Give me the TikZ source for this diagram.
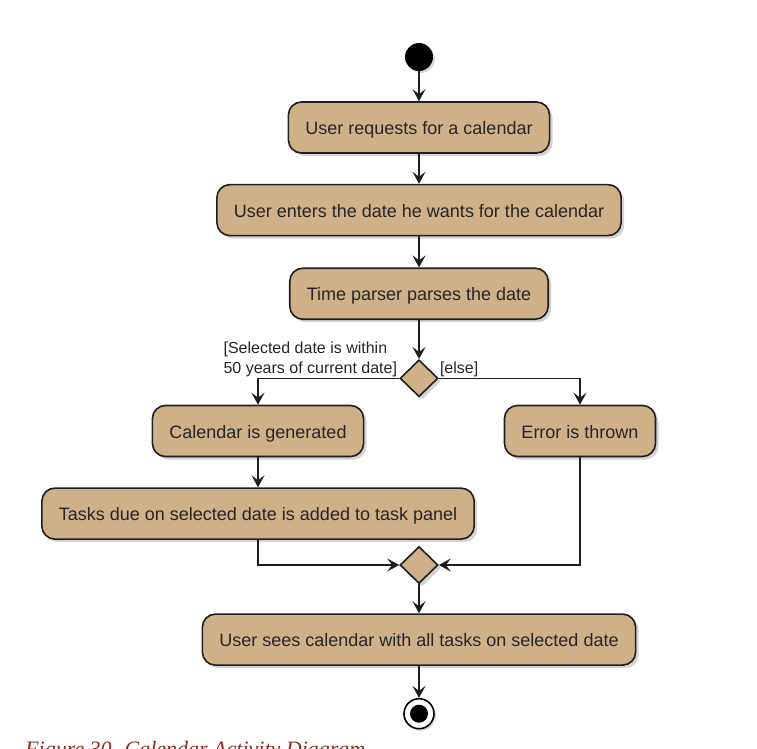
\documentclass[tikz,border=0pt]{standalone}
\usepackage{fontspec}
\setsansfont{Liberation Sans}
\newfontfamily\captionfont{Liberation Serif}
\usepackage{tikz}
\usetikzlibrary{shapes.geometric, arrows.meta, positioning, shadows, calc}
\usepackage{xcolor}
\definecolor{actcolor}{HTML}{D0B089}
\definecolor{edgecolor}{HTML}{1E1E1E}
\definecolor{capcolor}{HTML}{8B2E1F}

\begin{document}
\begin{tikzpicture}[
    x=1pt, y=-1pt,
    node distance=30pt,
    act/.style={rectangle, rounded corners=13pt, minimum height=51pt, inner xsep=17pt,
                text height=16pt, text depth=2pt,
                draw=edgecolor, line width=1.6pt, fill=actcolor, text=black!85,
                font=\sffamily\fontsize{18}{21}\selectfont,
                drop shadow={shadow xshift=3pt, shadow yshift=-3pt, opacity=0.35}},
    choice/.style={diamond, aspect=1, minimum width=38pt, minimum height=37pt, inner sep=0pt,
                draw=edgecolor, line width=1.6pt, fill=actcolor,
                drop shadow={shadow xshift=3pt, shadow yshift=-3pt, opacity=0.35}},
    guard/.style={font=\sffamily\fontsize{16}{20}\selectfont, text=black!85, align=left, inner sep=1pt},
    arr/.style={-{Stealth[length=12pt, width=13pt, inset=5pt]}, edgecolor, line width=1.6pt},
]

\useasboundingbox (0,0) rectangle (757,748);
\clip (0,0) rectangle (757,748);

% Start
\node[circle, fill=black, minimum size=28pt, inner sep=0pt,
      drop shadow={shadow xshift=2pt, shadow yshift=-2pt, opacity=0.3}] (start) at (419,57) {};

% Main flow
\node[act, below=30pt of start] (request) {User requests for a calendar};
\node[act, below=30pt of request] (enter) {User enters the date he wants for the calendar};
\node[act, below=31pt of enter] (parse) {Time parser parses the date};
\node[choice, below=39pt of parse] (check) {};

\draw[arr] (start) -- (request);
\draw[arr] (request) -- (enter);
\draw[arr] (enter) -- (parse);
\draw[arr] (parse) -- (check);

% Guards
\node[guard, above left=0pt and 1pt of check.west] (within)
    {[Selected date is within\\50 years of current date]};
\node[guard, above right=0pt and 0pt of check.east] (other) {[else]};

% Branches
\node[act] (generated) at (258,431) {Calendar is generated};
\node[act] (thrown) at (580,431) {Error is thrown};
\node[act, below=30pt of generated] (tasks) {Tasks due on selected date is added to task panel};

\draw[arr] (check.west) -| (generated.north);
\draw[arr] (check.east) -| (thrown.north);
\draw[arr] (generated) -- (tasks);

% Merge
\node[choice] (merge) at (419,565) {};
\draw[arr] (tasks.south) |- (merge.west);
\draw[arr] (thrown.south) |- (merge.east);

% End
\node[act, below=29pt of merge] (sees) {User sees calendar with all tasks on selected date};
\node[circle, draw=black, line width=1.6pt, fill=white, minimum size=30pt, inner sep=0pt,
      below=32pt of sees, drop shadow={shadow xshift=2pt, shadow yshift=-2pt, opacity=0.3}] (stop) {};
\fill[black] (stop.center) circle (9pt);

\draw[arr] (merge) -- (sees);
\draw[arr] (sees) -- (stop);

% Caption
\node[anchor=base west, inner sep=0pt, text=capcolor,
      font=\captionfont\itshape\fontsize{22}{26}\selectfont] (caption) at (25,756)
    {Figure 30. Calendar Activity Diagram};

\end{tikzpicture}
\end{document}
